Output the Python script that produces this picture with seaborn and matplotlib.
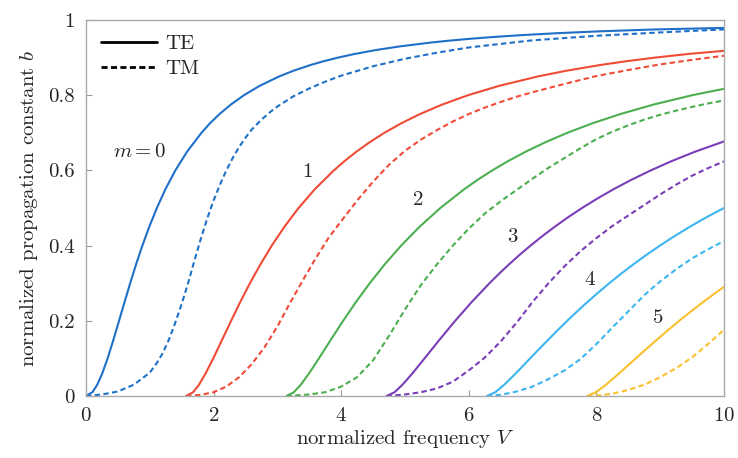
import matplotlib
matplotlib.use("Agg")
import matplotlib.pyplot as plt
import seaborn as sns
from matplotlib.lines import Line2D

# --- data (V, b) ---
te0_v = [0, 0.101, 0.177, 0.255, 0.339, 0.431, 0.518, 0.605, 0.693, 0.785, 0.884, 0.992, 1.111,
         1.245, 1.401, 1.585, 1.810, 1.942, 2.094, 2.270, 2.476, 2.723, 3.029, 3.251, 3.513,
         3.717, 3.950, 4.220, 4.539, 4.925, 5.402, 5.689, 6.016, 6.397, 6.847, 7.390, 8.064,
         8.931, 10.0]
te0_b = [0, 0.01, 0.03, 0.06, 0.10, 0.15, 0.20, 0.25, 0.30, 0.35, 0.40, 0.45, 0.50,
         0.55, 0.60, 0.65, 0.70, 0.725, 0.75, 0.775, 0.80, 0.825, 0.85, 0.865, 0.88,
         0.89, 0.90, 0.91, 0.92, 0.93, 0.94, 0.945, 0.95, 0.955, 0.96, 0.965, 0.97,
         0.975, 0.979]
tm0_v = [0, 0.25, 0.5, 0.75, 1.0, 1.1, 1.2, 1.3, 1.4, 1.5, 1.6, 1.7, 1.8, 1.9, 2.0, 2.1, 2.2,
         2.3, 2.4, 2.5, 2.6, 2.75, 2.9, 3.0, 3.25, 3.5, 3.75, 4.0, 4.5, 5.0, 5.5, 6.0, 7.0,
         8.0, 9.0, 10.0]
tm0_b = [0, 0.004, 0.012, 0.03, 0.062, 0.085, 0.113, 0.15, 0.195, 0.245, 0.30, 0.36, 0.418,
         0.472, 0.52, 0.562, 0.60, 0.633, 0.662, 0.687, 0.709, 0.735, 0.757, 0.77, 0.797,
         0.818, 0.836, 0.852, 0.877, 0.897, 0.913, 0.927, 0.946, 0.958, 0.967, 0.975]

te1_v = [1.571, 1.679, 1.772, 1.875, 1.995, 2.135, 2.275, 2.418, 2.570, 2.734, 2.912, 3.110,
         3.332, 3.587, 3.885, 4.054, 4.240, 4.447, 4.678, 4.938, 5.236, 5.581, 5.988, 6.478,
         7.085, 7.526, 8.047, 8.453, 8.917, 9.456, 10.0]
te1_b = [0, 0.01, 0.03, 0.06, 0.10, 0.15, 0.20, 0.25, 0.30, 0.35, 0.40, 0.45,
         0.50, 0.55, 0.60, 0.625, 0.65, 0.675, 0.70, 0.725, 0.75, 0.775, 0.80, 0.825,
         0.85, 0.865, 0.88, 0.89, 0.90, 0.91, 0.918]
tm1_v = [1.571, 1.8, 2.0, 2.2, 2.4, 2.6, 2.8, 3.0, 3.2, 3.4, 3.6, 3.8, 4.0, 4.25, 4.5, 4.75,
         5.0, 5.25, 5.5, 5.75, 6.0, 6.25, 6.5, 6.75, 7.0, 7.5, 8.0, 8.5, 9.0, 9.5, 10.0]
tm1_b = [0, 0.003, 0.01, 0.025, 0.05, 0.085, 0.13, 0.185, 0.248, 0.308, 0.366, 0.42, 0.465,
         0.52, 0.57, 0.615, 0.652, 0.682, 0.707, 0.73, 0.75, 0.767, 0.782, 0.796, 0.808,
         0.83, 0.851, 0.867, 0.882, 0.894, 0.905]

te2_v = [3.142, 3.258, 3.367, 3.496, 3.651, 3.839, 4.031, 4.232, 4.448, 4.682, 4.940, 5.228,
         5.554, 5.929, 6.139, 6.368, 6.619, 6.895, 7.202, 7.545, 7.933, 8.378, 8.893, 9.501,
         10.0]
te2_b = [0, 0.01, 0.03, 0.06, 0.10, 0.15, 0.20, 0.25, 0.30, 0.35, 0.40, 0.45,
         0.50, 0.55, 0.575, 0.60, 0.625, 0.65, 0.675, 0.70, 0.725, 0.75, 0.775, 0.80,
         0.817]
tm2_v = [3.142, 3.5, 3.75, 4.0, 4.25, 4.5, 4.75, 5.0, 5.25, 5.5, 5.75, 6.0, 6.25, 6.5, 6.75,
         7.0, 7.25, 7.5, 7.75, 8.0, 8.25, 8.5, 8.75, 9.0, 9.25, 9.5, 9.75, 10.0]
tm2_b = [0, 0.004, 0.01, 0.025, 0.05, 0.095, 0.16, 0.23, 0.295, 0.35, 0.40, 0.445, 0.485,
         0.518, 0.548, 0.578, 0.607, 0.633, 0.659, 0.683, 0.703, 0.72, 0.735, 0.748, 0.759,
         0.769, 0.778, 0.786]

te3_v = [4.712, 4.837, 4.961, 5.116, 5.307, 5.543, 5.787, 6.046, 6.325, 6.474, 6.630, 6.794,
         6.968, 7.151, 7.346, 7.553, 7.775, 8.013, 8.270, 8.549, 8.852, 9.184, 9.550, 10.0]
te3_b = [0, 0.01, 0.03, 0.06, 0.10, 0.15, 0.20, 0.25, 0.30, 0.325, 0.35, 0.375,
         0.40, 0.425, 0.45, 0.475, 0.50, 0.525, 0.55, 0.575, 0.60, 0.625, 0.65, 0.677]
tm3_v = [4.712, 5.0, 5.25, 5.5, 5.75, 6.0, 6.25, 6.5, 6.75, 7.0, 7.25, 7.5, 7.75, 8.0, 8.25,
         8.5, 8.75, 9.0, 9.25, 9.5, 9.75, 10.0]
tm3_b = [0, 0.004, 0.01, 0.02, 0.038, 0.068, 0.102, 0.145, 0.195, 0.25, 0.30, 0.345, 0.385,
         0.42, 0.452, 0.48, 0.508, 0.536, 0.562, 0.586, 0.606, 0.624]

te4_v = [6.283, 6.416, 6.556, 6.736, 6.962, 7.103, 7.247, 7.393, 7.543, 7.699, 7.860, 8.028,
         8.203, 8.386, 8.579, 8.781, 8.996, 9.222, 9.464, 9.721, 10.0]
te4_b = [0, 0.01, 0.03, 0.06, 0.10, 0.125, 0.15, 0.175, 0.20, 0.225, 0.25, 0.275,
         0.30, 0.325, 0.35, 0.375, 0.40, 0.425, 0.45, 0.475, 0.50]
tm4_v = [6.283, 6.5, 6.75, 7.0, 7.25, 7.5, 7.75, 8.0, 8.25, 8.5, 8.75, 9.0, 9.25, 9.5, 9.75, 10.0]
tm4_b = [0, 0.003, 0.012, 0.025, 0.045, 0.068, 0.098, 0.138, 0.182, 0.225, 0.268, 0.305,
         0.337, 0.366, 0.39, 0.412]

te5_v = [7.854, 7.994, 8.151, 8.356, 8.618, 8.783, 8.950, 9.122, 9.299, 9.483, 9.674, 9.873, 10.0]
te5_b = [0, 0.01, 0.03, 0.06, 0.10, 0.125, 0.15, 0.175, 0.20, 0.225, 0.25, 0.275, 0.29]
tm5_v = [7.854, 8.0, 8.25, 8.5, 8.75, 9.0, 9.25, 9.5, 9.75, 10.0]
tm5_b = [0, 0.001, 0.006, 0.016, 0.03, 0.05, 0.074, 0.103, 0.138, 0.176]

mode_colors = ["#1f70c8", "#f04b37", "#4caf50", "#7a3db8", "#3db5f0", "#fbc02d"]
mode_labels = ["$m = 0$", "1", "2", "3", "4", "5"]
label_pos = [(0.85, 0.65), (3.47, 0.596), (5.2, 0.521), (6.69, 0.423), (7.9, 0.309), (8.97, 0.207)]

te_curves = [(te0_v, te0_b), (te1_v, te1_b), (te2_v, te2_b),
             (te3_v, te3_b), (te4_v, te4_b), (te5_v, te5_b)]
tm_curves = [(tm0_v, tm0_b), (tm1_v, tm1_b), (tm2_v, tm2_b),
             (tm3_v, tm3_b), (tm4_v, tm4_b), (tm5_v, tm5_b)]

# --- plotting ---
sns.set_theme(style="white")
plt.rcParams["font.family"] = "serif"
plt.rcParams["font.serif"] = ["cmr10"]
plt.rcParams["mathtext.fontset"] = "cm"
plt.rcParams["axes.formatter.use_mathtext"] = True

fig = plt.figure(figsize=(7.38, 4.58), dpi=100)
ax = fig.add_axes([0.1165, 0.1354, 0.8645, 0.8209])

dash = (0, (2.6, 1.6))
for i in range(6):
    sns.lineplot(x=te_curves[i][0], y=te_curves[i][1], color=mode_colors[i], lw=1.5,
                 estimator=None, sort=False, ax=ax)
    sns.lineplot(x=tm_curves[i][0], y=tm_curves[i][1], color=mode_colors[i], lw=1.5,
                 linestyle=dash, estimator=None, sort=False, ax=ax)
    ax.text(label_pos[i][0], label_pos[i][1], mode_labels[i], fontsize=15,
            ha="center", va="center")

ax.set_xlim(0, 10)
ax.set_ylim(0, 1)
ax.set_xticks([0, 2, 4, 6, 8, 10])
ax.set_yticks([0, 0.2, 0.4, 0.6, 0.8, 1])
ax.set_yticklabels(["0", "0.2", "0.4", "0.6", "0.8", "1"])
ax.tick_params(direction="in", length=4, width=0.8, color="#9a9a9a", labelsize=15,
               bottom=True, left=True, top=False, right=False, pad=8)
for sp in ax.spines.values():
    sp.set_color("#aaaaaa")
    sp.set_linewidth(1.0)

ax.set_xlabel("normalized frequency $V$", fontsize=15, labelpad=2)
ax.set_ylabel("normalized propagation constant $b$", fontsize=15, labelpad=6)

handles = [Line2D([], [], color="black", lw=2, linestyle="-"),
           Line2D([], [], color="black", lw=2, linestyle=(0, (2.2, 1.2)))]
ax.legend(handles, ["TE", "TM"], loc="upper left", frameon=False, fontsize=15,
          handlelength=2.7, handletextpad=0.4, labelspacing=0.3,
          borderaxespad=0.3)

fig.savefig("out.png", dpi=100)
